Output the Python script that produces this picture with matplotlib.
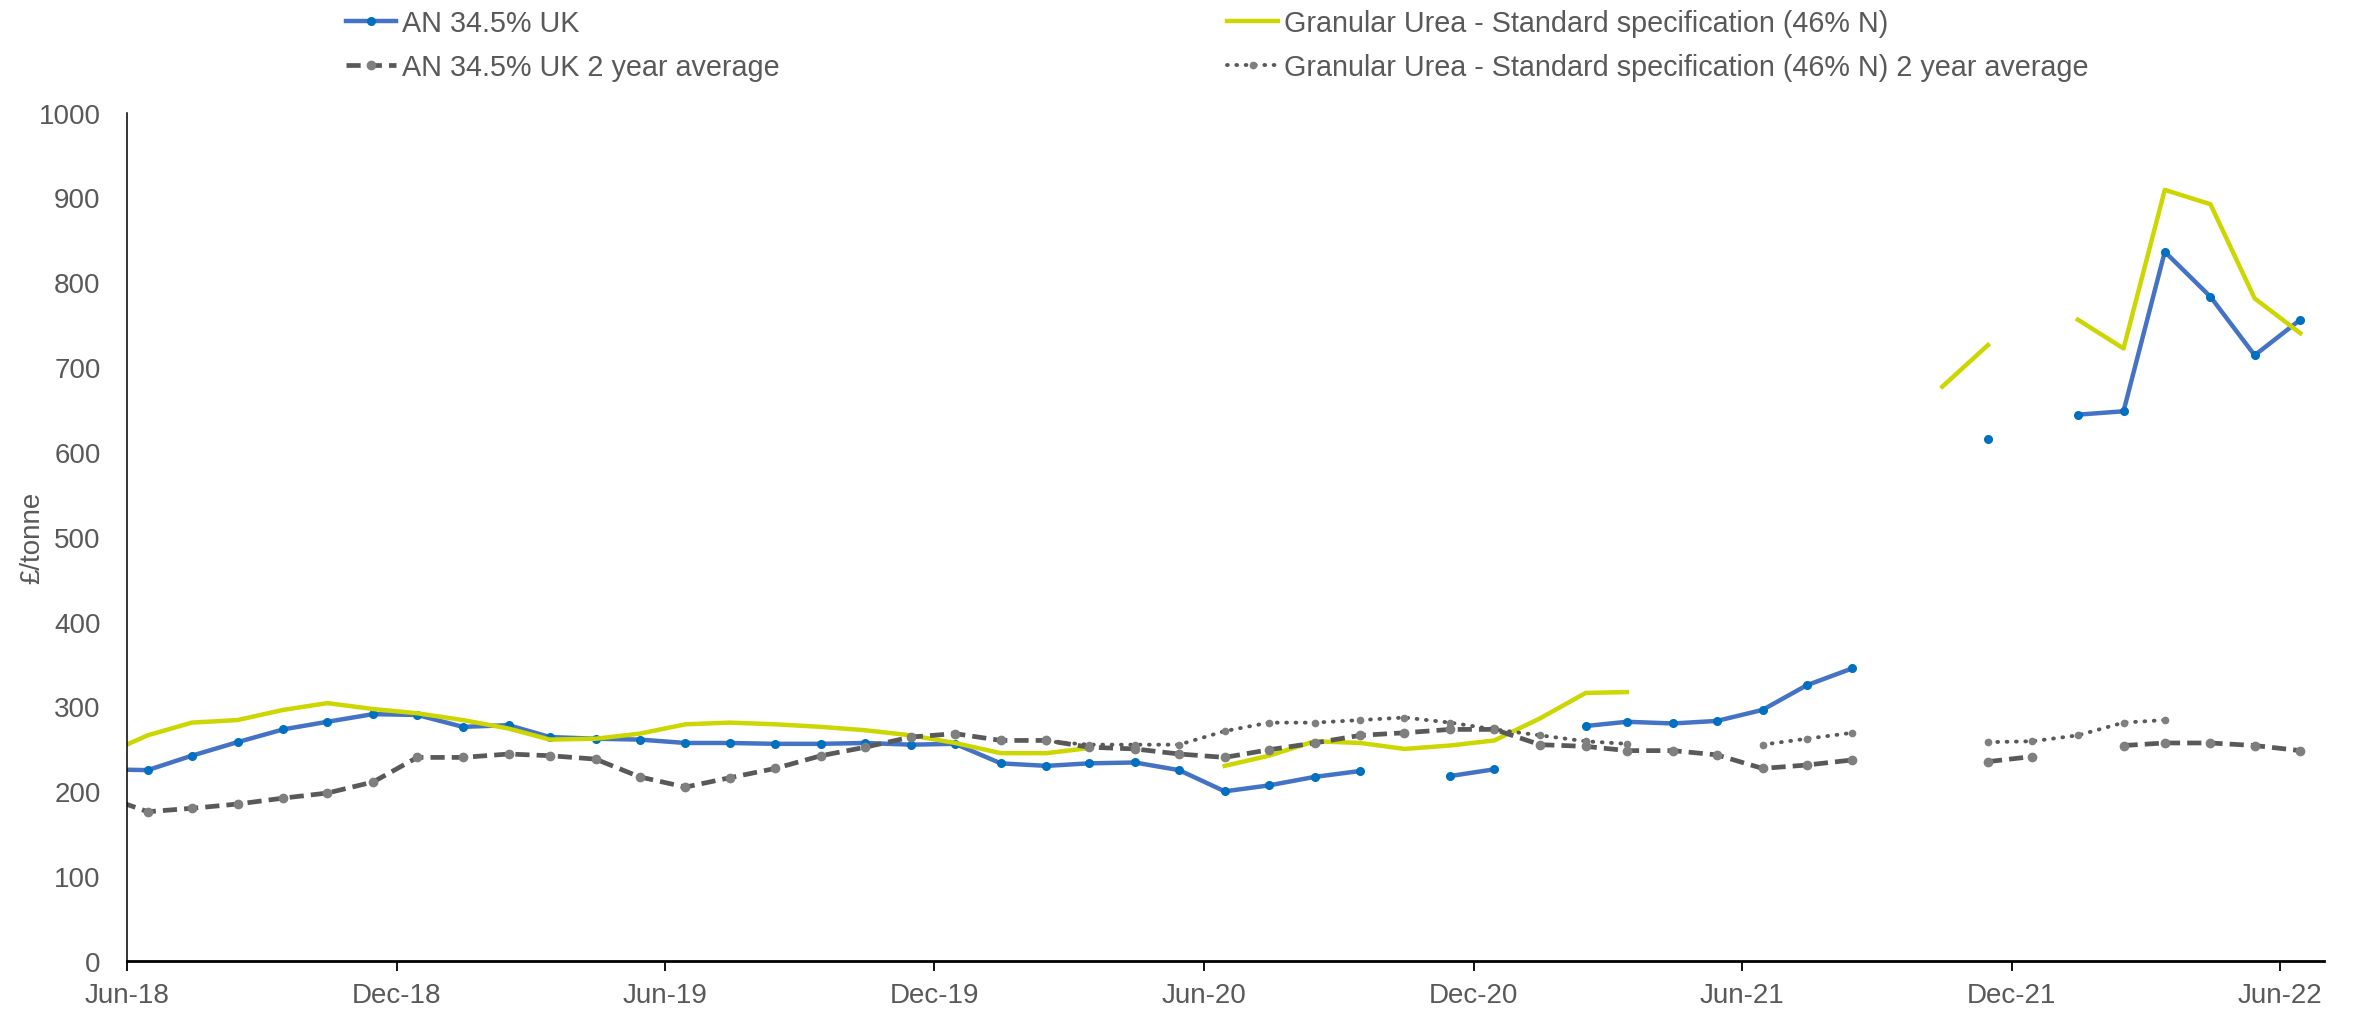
import numpy as np
import pandas as pd
import matplotlib
matplotlib.use("Agg")
import matplotlib.pyplot as plt
import matplotlib.dates as mdates

plt.rcParams['font.family'] = ['Liberation Sans', 'DejaVu Sans']

nan = np.nan

# monthly prices (£/tonne), May-18 to Jun-22, plotted mid-month
months = pd.date_range("2018-05-01", "2022-06-01", freq="MS") + pd.Timedelta(days=14)

an_uk = [226, 225, 242, 258, 273, 282, 291, 290, 276, 278, 264, 262, 261,
         257, 257, 256, 256, 257, 255, 256, 233, 230, 233, 234, 225,
         200, 207, 217, 224, nan, 218, 226, nan, 277, 282, 280, 283,
         296, 325, 345, nan, nan, 615, nan, 644, 648, 836, 783, 714, 756]

urea = [242, 266, 281, 284, 296, 304, 297, 292, 284, 274, 261, 262, 268,
        279, 281, 279, 276, 272, 266, 257, 245, 245, 251, nan, nan,
        230, 242, 259, 257, 250, 254, 260, 286, 316, 317, nan, nan,
        nan, nan, nan, nan, 677, 726, nan, 756, 722, 909, 892, 781, 740]

an_avg = [195, 176, 180, 185, 192, 198, 211, 240, 240, 244, 242, 238, 217,
          205, 216, 227, 242, 252, 264, 268, 260, 260, 252, 250, 244,
          240, 249, 257, 266, 269, 273, 273, 255, 253, 248, 248, 243,
          227, 231, 237, nan, nan, 235, 241, nan, 254, 257, 257, 254, 248]

urea_avg = [nan] * 21 + [259, 255, 255, 255,
            271, 281, 281, 284, 287, 281, 273, 266, 259, 256, nan, nan,
            255, 262, 269, nan, nan, 258, 259, 266, 281, 284, nan, nan, nan]

labels = ["AN 34.5% UK",
          "Granular Urea - Standard specification (46% N)",
          "AN 34.5% UK 2 year average",
          "Granular Urea - Standard specification (46% N) 2 year average"]

text_col = "#595959"

fig = plt.figure(figsize=(23.74, 10.12), dpi=100)
ax = fig.add_axes([0.0535, 0.0494, 0.9254, 0.8383])

l_an, = ax.plot(months, an_uk, color="#4472C4", lw=3.2, marker="o", ms=5.5,
                mfc="#0070C0", mec="#0070C0", label=labels[0])
l_urea, = ax.plot(months, urea, color="#CCD600", lw=3.2, label=labels[1])
l_anavg, = ax.plot(months, an_avg, color="#595959", lw=3.4, dashes=(3, 1.5),
                   marker="o", ms=6, mfc="#7F7F7F", mec="#7F7F7F",
                   label=labels[2])
l_uavg, = ax.plot(months, urea_avg, color="#595959", lw=2.8,
                  dashes=(0.2, 2.2), dash_capstyle="round",
                  marker="o", ms=4.5, mfc="#7F7F7F", mec="#7F7F7F",
                  label=labels[3])

ax.set_ylim(0, 1000)
ax.set_yticks(np.arange(0, 1001, 100))
ax.set_xlim(pd.Timestamp("2018-06-01"), pd.Timestamp("2022-07-01"))
ax.set_xticks(pd.date_range("2018-06-01", "2022-06-01", freq="6MS"))
ax.xaxis.set_major_formatter(mdates.DateFormatter("%b-%y"))

for s in ["top", "right"]:
    ax.spines[s].set_visible(False)
ax.spines["left"].set_linewidth(1.1)
ax.spines["bottom"].set_linewidth(2.0)
ax.tick_params(axis="y", length=0, pad=19, labelsize=20, labelcolor=text_col)
ax.tick_params(axis="x", length=7, width=1.3, pad=8, labelsize=20,
               labelcolor=text_col)

ax.set_ylabel("£/tonne", fontsize=20, color=text_col)
ax.yaxis.set_label_coords(-0.037, 0.5)

leg_kw = dict(loc="upper left", frameon=False, fontsize=20.7, borderpad=0,
              handlelength=1.75, handletextpad=0.2, labelspacing=0.56,
              labelcolor=text_col)
fig.legend(handles=[l_an, l_anavg], bbox_to_anchor=(0.1395, 1.004), **leg_kw)
fig.legend(handles=[l_urea, l_uavg], bbox_to_anchor=(0.511, 1.004), **leg_kw)

fig.savefig("out.png", dpi=100)
